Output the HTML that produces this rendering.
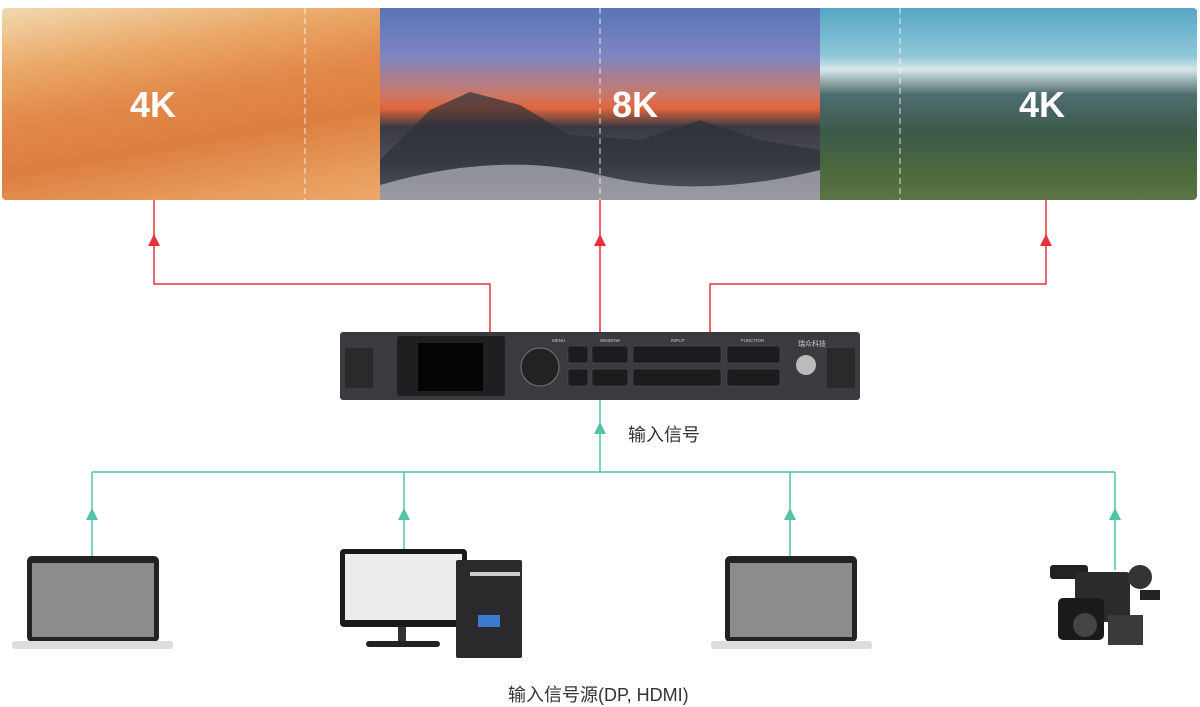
<!DOCTYPE html><html><head><meta charset="utf-8"><style>
body{margin:0;width:1200px;height:705px;background:#fff;position:relative;overflow:hidden;font-family:"Liberation Sans","Noto Sans CJK SC",sans-serif}
.a{position:absolute}
.k{position:absolute;color:#fff;font-weight:bold;font-size:36px}
</style></head><body>
<div class="a" style="left:2px;top:8px;width:378px;height:192px;border-radius:4px 0 0 4px;background:linear-gradient(170deg,#f2d9b0 0%,#eaa868 25%,#e2894a 45%,#dc7f40 65%,#e6995a 85%,#eda86a 100%)"></div>
<div class="a" style="left:380px;top:8px;width:440px;height:192px;background:linear-gradient(180deg,#5a74b8 0%,#7d86c0 25%,#c9786a 45%,#e3663c 52%,#3a3a44 62%,#4b4e58 80%,#a9aab4 100%)"></div>
<div class="a" style="left:820px;top:8px;width:377px;height:192px;border-radius:0 4px 4px 0;background:linear-gradient(180deg,#56a6c4 0%,#8fc7d8 25%,#d8e6ea 32%,#4f6d6f 45%,#3c5a48 65%,#4c6a3e 85%,#5a7444 100%)"></div>
<svg class="a" style="left:0;top:0" width="1200" height="705">
<path d="M380,160 L430,110 L470,92 L520,105 L570,135 L640,140 L700,120 L760,140 L820,150 L820,200 L380,200Z" fill="#2e3036" opacity=".7"/>
<path d="M380,185 Q500,150 600,175 T820,170 L820,200 L380,200Z" fill="#c8c8d0" opacity=".6"/>
<g stroke="#fff" stroke-dasharray="6,4" stroke-width="1" opacity=".8"><line x1="305" y1="8" x2="305" y2="200"/><line x1="600" y1="8" x2="600" y2="200"/><line x1="900" y1="8" x2="900" y2="200"/></g>
<g stroke="#e8333c" stroke-width="1.5" fill="none"><polyline points="154,200 154,284 490,284 490,332"/><line x1="600" y1="200" x2="600" y2="332"/><polyline points="1046,200 1046,284 710,284 710,332"/></g>
<g fill="#e8333c"><path d="M154,234 l-6,12 h12z"/><path d="M600,234 l-6,12 h12z"/><path d="M1046,234 l-6,12 h12z"/></g>
<g stroke="#4fc4a6" stroke-width="1.5" fill="none"><line x1="600" y1="400" x2="600" y2="472"/><line x1="92" y1="472" x2="1115" y2="472"/><line x1="92" y1="472" x2="92" y2="557"/><line x1="404" y1="472" x2="404" y2="550"/><line x1="790" y1="472" x2="790" y2="557"/><line x1="1115" y1="472" x2="1115" y2="570"/></g>
<g fill="#4fc4a6"><path d="M600,422 l-6,12 h12z"/><path d="M92,508 l-6,12 h12z"/><path d="M404,508 l-6,12 h12z"/><path d="M790,508 l-6,12 h12z"/><path d="M1115,508 l-6,12 h12z"/></g>
<rect x="340" y="332" width="520" height="68" rx="3" fill="#3a3b3e"/>
<rect x="397" y="336" width="108" height="60" rx="3" fill="#1e1f21"/>
<rect x="418" y="343" width="65" height="48" fill="#050505"/>
<circle cx="540" cy="367" r="19" fill="#222" stroke="#777"/>
<g fill="#1b1c1e" stroke="#555" stroke-width=".5">
<rect x="568" y="346" width="20" height="17" rx="2"/><rect x="568" y="369" width="20" height="17" rx="2"/>
<rect x="592" y="346" width="36" height="17" rx="2"/><rect x="592" y="369" width="36" height="17" rx="2"/>
<rect x="633" y="346" width="88" height="17" rx="2"/><rect x="633" y="369" width="88" height="17" rx="2"/>
<rect x="727" y="346" width="53" height="17" rx="2"/><rect x="727" y="369" width="53" height="17" rx="2"/>
</g>
<rect x="345" y="348" width="28" height="40" fill="#2a2a2a"/><rect x="827" y="348" width="28" height="40" fill="#2a2a2a"/>
<circle cx="806" cy="365" r="10" fill="#bbb"/>
<text x="798" y="346" font-size="7" fill="#ccc">瑞众科技</text>
<text x="552" y="342" font-size="4.5" fill="#ccc">MENU</text><text x="600" y="342" font-size="4.5" fill="#ccc">WINDOW</text><text x="671" y="342" font-size="4.5" fill="#ccc">INPUT</text><text x="741" y="342" font-size="4.5" fill="#ccc">FUNCTION</text>
<rect x="27" y="556" width="132" height="86" rx="5" fill="#222"/><rect x="32" y="563" width="122" height="74" fill="#8c8c8c"/><rect x="12" y="641" width="161" height="8" rx="3" fill="#ddd"/>
<rect x="725" y="556" width="132" height="86" rx="5" fill="#222"/><rect x="730" y="563" width="122" height="74" fill="#8c8c8c"/><rect x="711" y="641" width="161" height="8" rx="3" fill="#ddd"/>
<rect x="340" y="549" width="127" height="78" rx="4" fill="#1a1a1a"/><rect x="345" y="554" width="117" height="66" fill="#ececec"/><rect x="398" y="627" width="8" height="14" fill="#333"/><rect x="366" y="641" width="74" height="6" rx="3" fill="#222"/>
<rect x="456" y="560" width="66" height="98" rx="2" fill="#2a2a2c"/><rect x="470" y="572" width="50" height="4" fill="#ccc"/><rect x="478" y="615" width="22" height="12" fill="#3b7bd0"/>
<rect x="1050" y="565" width="38" height="14" rx="3" fill="#222"/><rect x="1075" y="572" width="55" height="50" rx="4" fill="#2b2b2b"/><rect x="1058" y="598" width="46" height="42" rx="5" fill="#1a1a1a"/><circle cx="1085" cy="625" r="12" fill="#444"/><circle cx="1140" cy="577" r="12" fill="#333"/><rect x="1108" y="615" width="35" height="30" fill="#3a3a3a"/><rect x="1140" y="590" width="20" height="10" fill="#222"/>
</svg>
<div class="k" style="left:130px;top:84px">4K</div>
<div class="k" style="left:612px;top:84px">8K</div>
<div class="k" style="left:1019px;top:84px">4K</div>
<div class="a" style="left:628px;top:421px;font-size:18px;color:#333">输入信号</div>
<div class="a" style="left:508px;top:681px;font-size:18px;color:#333">输入信号源(DP, HDMI)</div>
</body></html>
